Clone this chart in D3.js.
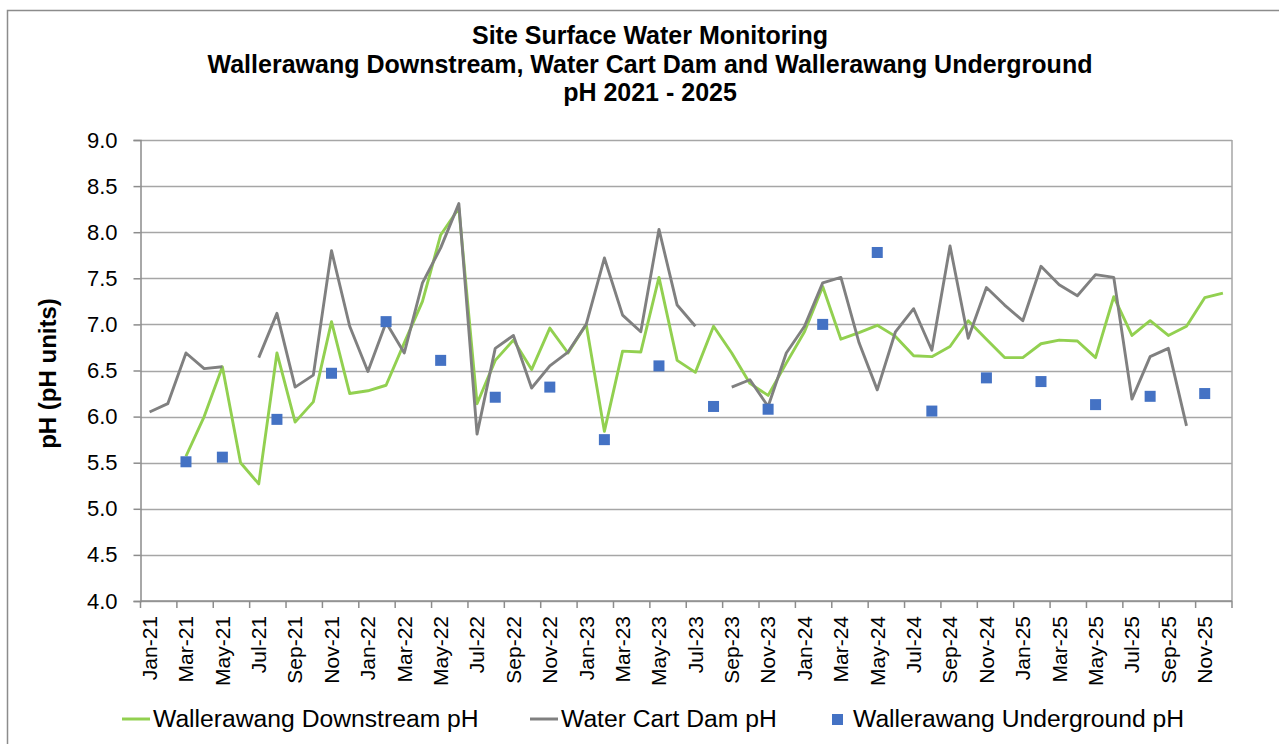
<!DOCTYPE html>
<html>
<head>
<meta charset="utf-8">
<script src="https://cdn.jsdelivr.net/npm/d3@7"></script>
<style>
  body { margin: 0; background: #fff; }
  svg { display: block; font-family: "Liberation Sans", Arial, sans-serif; }
</style>
</head>
<body>
<svg id="chart" width="1279" height="744"></svg>
<script>
// chart titles
const titleLines = [
  'Site Surface Water Monitoring',
  'Wallerawang Downstream, Water Cart Dam and Wallerawang Underground',
  'pH 2021 - 2025'
];

// monthly categories Jan-21 .. Dec-25
const fmtMonth = d3.timeFormat('%b-%y');
const months = d3.timeMonths(new Date(2021, 0, 1), new Date(2026, 0, 1)).map(fmtMonth);

// y axis ticks
const yTicks = [4.0, 4.5, 5.0, 5.5, 6.0, 6.5, 7.0, 7.5, 8.0, 8.5, 9.0];

// Wallerawang Downstream pH (null = not sampled)
const downstream = [
  null, null, 5.57, 6.00, 6.54, 5.50, 5.27, 6.69, 5.94, 6.16, 7.03, 6.25,
  6.28, 6.34, 6.80, 7.25, 7.97, 8.26, 6.14, 6.61, 6.83, 6.51, 6.96, 6.69,
  7.00, 5.84, 6.71, 6.70, 7.51, 6.61, 6.48, 6.98, 6.69, 6.36, 6.23, 6.58,
  6.92, 7.41, 6.84, 6.91, 6.99, 6.87, 6.66, 6.65, 6.76, 7.04, 6.84, 6.64,
  6.64, 6.79, 6.83, 6.82, 6.64, 7.30, 6.88, 7.04, 6.88, 6.98, 7.29, 7.34
];

// Water Cart Dam pH
const cartDam = [
  6.05, 6.14, 6.69, 6.52, 6.54, null, 6.64, 7.12, 6.32, 6.45, 7.80, 6.98,
  6.49, 7.02, 6.69, 7.45, 7.83, 8.31, 5.81, 6.74, 6.88, 6.31, 6.55, 6.70,
  7.00, 7.72, 7.10, 6.92, 8.03, 7.21, 6.98, null, 6.32, 6.40, 6.11, 6.69,
  6.98, 7.45, 7.51, 6.80, 6.29, 6.92, 7.17, 6.72, 7.85, 6.85, 7.40, 7.21,
  7.04, 7.63, 7.43, 7.31, 7.54, 7.51, 6.19, 6.65, 6.74, 5.90, null, null
];

// Wallerawang Underground pH (quarterly)
const underground = [
  null, null, 5.51, null, 5.56, null, null, 5.97, null, null, 6.47, null,
  null, 7.03, null, null, 6.61, null, null, 6.21, null, null, 6.32, null,
  null, 5.75, null, null, 6.55, null, null, 6.11, null, null, 6.08, null,
  null, 7.00, null, null, 7.78, null, null, 6.06, null, null, 6.42, null,
  null, 6.38, null, null, 6.13, null, null, 6.22, null, null, 6.25, null
];

const seriesNames = ['Wallerawang Downstream pH', 'Water Cart Dam pH', 'Wallerawang Underground pH'];

const colors = { green: '#92d050', grey: '#808080', blue: '#4472c4', grid: '#a6a6a6', axis: '#8c8c8c' };

const svg = d3.select('#chart');

// plot area
const plot = { left: 140.5, right: 1232, top: 140, bottom: 601 };

// outer chart border (only left and top are inside the picture)
svg.append('rect')
  .attr('x', 7.5).attr('y', 10.5)
  .attr('width', 1400).attr('height', 900)
  .attr('fill', 'none').attr('stroke', colors.axis).attr('stroke-width', 1.5);

// scales
const x = d3.scaleBand().domain(months).range([plot.left, plot.right]).padding(0);
const y = d3.scaleLinear().domain([4, 9]).range([plot.bottom, plot.top]);
const cx = m => x(m) + x.bandwidth() / 2;

// horizontal gridlines
svg.append('g')
  .selectAll('line')
  .data(yTicks)
  .join('line')
  .attr('x1', plot.left).attr('x2', plot.right)
  .attr('y1', d => Math.round(y(d)) + 0.5).attr('y2', d => Math.round(y(d)) + 0.5)
  .attr('stroke', colors.grid).attr('stroke-width', 1.5);

// right plot border
svg.append('line')
  .attr('x1', plot.right).attr('x2', plot.right)
  .attr('y1', plot.top).attr('y2', plot.bottom)
  .attr('stroke', colors.grid).attr('stroke-width', 1.5);

// y axis
const yAxis = svg.append('g')
  .attr('transform', `translate(${plot.left},0)`)
  .call(d3.axisLeft(y).tickValues(yTicks).tickFormat(d3.format('.1f')).tickSize(7).tickPadding(16));
yAxis.select('.domain').attr('stroke', colors.axis).attr('stroke-width', 1.5);
yAxis.selectAll('.tick line').attr('stroke', colors.axis).attr('stroke-width', 1.5);
yAxis.selectAll('.tick text')
  .attr('font-size', 22).attr('fill', '#000')
  .attr('font-family', '"Liberation Sans", Arial, sans-serif');

// x axis line
svg.append('line')
  .attr('x1', plot.left).attr('x2', plot.right)
  .attr('y1', plot.bottom).attr('y2', plot.bottom)
  .attr('stroke', colors.axis).attr('stroke-width', 1.5);

// x tick marks every 2 months at category boundaries
const tickMonths = months.filter((m, i) => i % 2 === 0);
const tickPos = tickMonths.map(m => x(m)).concat([plot.right]);
svg.append('g')
  .selectAll('line')
  .data(tickPos)
  .join('line')
  .attr('x1', d => d).attr('x2', d => d)
  .attr('y1', plot.bottom).attr('y2', plot.bottom + 7)
  .attr('stroke', colors.axis).attr('stroke-width', 1.5);

// x labels (rotated)
svg.append('g')
  .selectAll('text')
  .data(tickMonths)
  .join('text')
  .attr('transform', d => `translate(${cx(d)},${plot.bottom + 15}) rotate(-90)`)
  .attr('text-anchor', 'end')
  .attr('dy', '0.35em')
  .attr('font-size', 21)
  .text(d => d);

// y axis title
svg.append('text')
  .attr('transform', `translate(48,${(plot.top + plot.bottom) / 2 + 3}) rotate(-90)`)
  .attr('text-anchor', 'middle')
  .attr('dy', '0.35em')
  .attr('font-size', 24)
  .attr('font-weight', 'bold')
  .text('pH (pH units)');

// title
svg.append('g')
  .selectAll('text')
  .data(titleLines)
  .join('text')
  .attr('x', 650)
  .attr('y', (d, i) => 44 + i * 28.5)
  .attr('text-anchor', 'middle')
  .attr('font-size', 25)
  .attr('font-weight', 'bold')
  .text(d => d);

// lines
const line = d3.line()
  .defined(d => d.v != null)
  .x(d => cx(d.m))
  .y(d => y(d.v));

function drawLine(values, color) {
  const data = months.map((m, i) => ({ m: m, v: values[i] }));
  svg.append('path')
    .datum(data)
    .attr('fill', 'none')
    .attr('stroke', color)
    .attr('stroke-width', 2.9)
    .attr('stroke-linejoin', 'round')
    .attr('d', line);
}

drawLine(downstream, colors.green);
drawLine(cartDam, colors.grey);

// underground squares
const sq = 11;
svg.append('g')
  .selectAll('rect')
  .data(months.map((m, i) => ({ m: m, v: underground[i] })).filter(d => d.v != null))
  .join('rect')
  .attr('x', d => cx(d.m) - sq / 2)
  .attr('y', d => y(d.v) - sq / 2)
  .attr('width', sq).attr('height', sq)
  .attr('fill', colors.blue);

// legend
const legendY = 719;
const legend = svg.append('g');
const legendItems = [
  { name: seriesNames[0], type: 'line', color: colors.green, x: 122 },
  { name: seriesNames[1], type: 'line', color: colors.grey, x: 530 },
  { name: seriesNames[2], type: 'square', color: colors.blue, x: 832 }
];
legendItems.forEach(function (item) {
  if (item.type === 'line') {
    legend.append('line')
      .attr('x1', item.x).attr('x2', item.x + 28)
      .attr('y1', legendY).attr('y2', legendY)
      .attr('stroke', item.color).attr('stroke-width', 3);
    legend.append('text')
      .attr('x', item.x + 31).attr('y', legendY + 8)
      .attr('font-size', 24.7).text(item.name);
  } else {
    legend.append('rect')
      .attr('x', item.x).attr('y', legendY - 5)
      .attr('width', sq).attr('height', sq)
      .attr('fill', item.color);
    legend.append('text')
      .attr('x', item.x + 21).attr('y', legendY + 8)
      .attr('font-size', 24.7).text(item.name);
  }
});
</script>
</body>
</html>
